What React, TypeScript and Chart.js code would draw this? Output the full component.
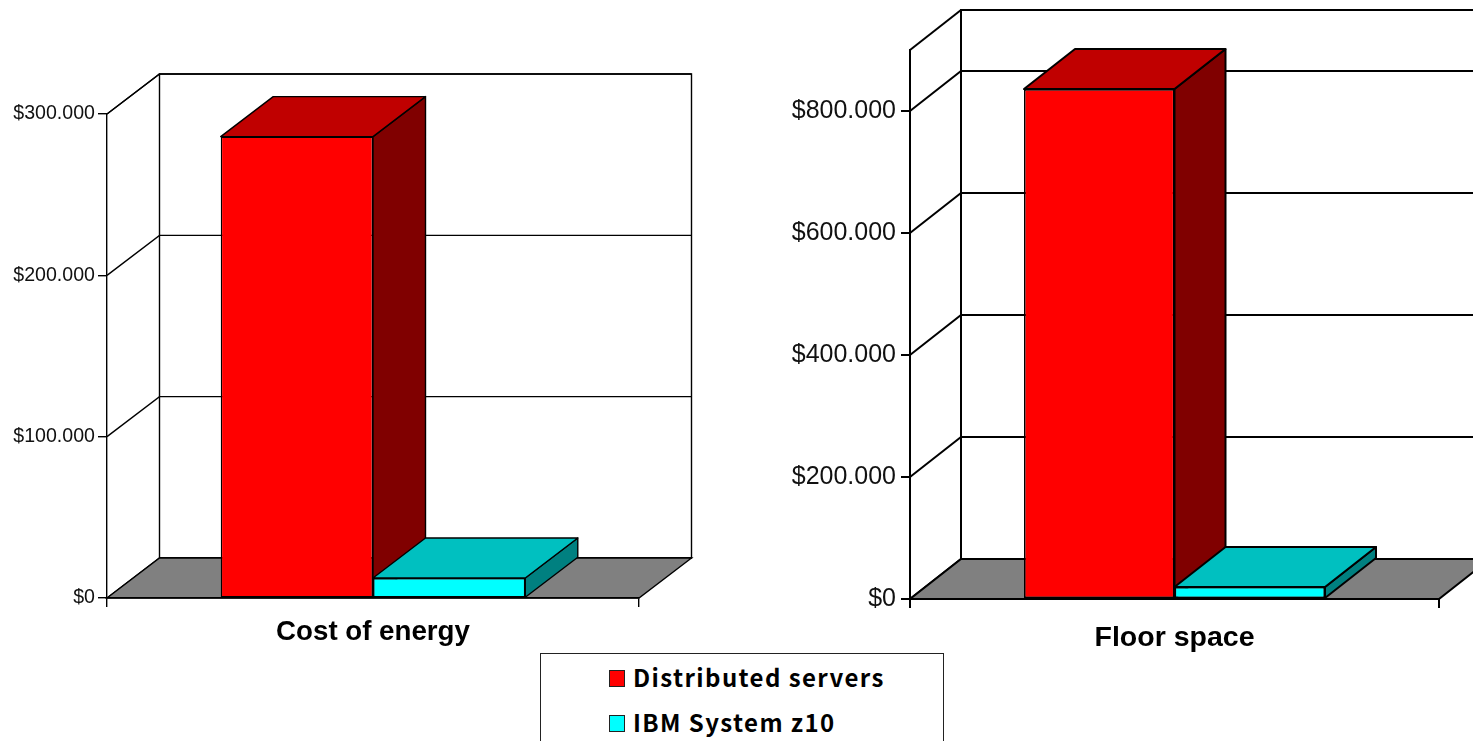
import React, { useEffect, useRef } from "react";
import { Chart, registerables } from "chart.js";

Chart.register(...registerables);

const seriesNames = ["Distributed servers", "IBM System z10"];
const energyCategories = ["Cost of energy"];
const energyDistributed = [286000];
const energyZ10 = [12400];
const energyTicks = [0, 100000, 200000, 300000];
const energyMax = 300000;
const floorCategories = ["Floor space"];
const floorDistributed = [836000];
const floorZ10 = [19700];
const floorTicks = [0, 200000, 400000, 600000, 800000];
const floorMax = 900000;

const frontColors = ["#FF0000", "#00FFFF"];
const topColors = ["#C00000", "#00C0C0"];
const sideColors = ["#800000", "#008080"];

const money = (v: number) => {
  if (v === 0) return "$0";
  const thousands = Math.round(v / 1000);
  return "$" + thousands + ".000";
};

function depthPlugin(dx: number, dy: number, lw: number) {
  const face = (ctx: any, pts: number[][], fill: string | null) => {
    ctx.beginPath();
    pts.forEach((p, i) => (i ? ctx.lineTo(p[0], p[1]) : ctx.moveTo(p[0], p[1])));
    ctx.closePath();
    if (fill) {
      ctx.fillStyle = fill;
      ctx.fill();
    }
    ctx.stroke();
  };
  return {
    id: "depth3d",
    beforeDraw(chart: any) {
      const { ctx, chartArea: a, scales } = chart;
      const y = scales.y;
      ctx.save();
      ctx.strokeStyle = "#000";
      ctx.lineWidth = lw;
      // walls
      face(ctx, [[a.left + dx, a.top + dy], [a.right + dx, a.top + dy], [a.right + dx, a.bottom + dy], [a.left + dx, a.bottom + dy]], "#fff");
      // side-wall top edge
      ctx.beginPath();
      ctx.moveTo(a.left, a.top);
      ctx.lineTo(a.left + dx, a.top + dy);
      ctx.stroke();
      // gridlines
      y.ticks.forEach((t: any) => {
        const py = y.getPixelForValue(t.value);
        ctx.beginPath();
        ctx.moveTo(a.left, py);
        ctx.lineTo(a.left + dx, py + dy);
        ctx.lineTo(a.right + dx, py + dy);
        ctx.stroke();
      });
      // floor
      face(ctx, [[a.left, a.bottom], [a.right, a.bottom], [a.right + dx, a.bottom + dy], [a.left + dx, a.bottom + dy]], "#808080");
      ctx.restore();
    },
    beforeDatasetsDraw(chart: any) {
      const { ctx } = chart;
      ctx.save();
      ctx.strokeStyle = "#000";
      ctx.lineWidth = lw;
      ctx.lineJoin = "round";
      chart.data.datasets.forEach((_: any, i: number) => {
        chart.getDatasetMeta(i).data.forEach((el: any) => {
          const l = el.x - el.width / 2;
          const r = el.x + el.width / 2;
          face(ctx, [[r, el.y], [r + dx, el.y + dy], [r + dx, el.base + dy], [r, el.base]], sideColors[i]);
          face(ctx, [[l, el.y], [r, el.y], [r + dx, el.y + dy], [l + dx, el.y + dy]], topColors[i]);
        });
      });
      ctx.restore();
    },
  };
}

type Cfg = {
  categories: string[];
  a: number[];
  b: number[];
  ticks: number[];
  max: number;
  axisLeft: number;
  axisWidth: number;
  top: number;
  bottom: number;
  canvasW: number;
  dx: number;
  dy: number;
  lw: number;
  barLw: number;
  tickFont: number;
  tickPad: number;
  catFont: number;
  catPad: number;
  catPct: number;
};

function build(canvas: HTMLCanvasElement, c: Cfg) {
  return new Chart(canvas, {
    type: "bar",
    data: {
      labels: c.categories,
      datasets: [
        { label: seriesNames[0], data: c.a, backgroundColor: frontColors[0] },
        { label: seriesNames[1], data: c.b, backgroundColor: frontColors[1] },
      ],
    },
    plugins: [depthPlugin(c.dx, c.dy, c.lw)],
    options: {
      animation: false,
      responsive: false,
      devicePixelRatio: 1,
      layout: { padding: { left: 0, top: c.top, right: c.canvasW - c.axisLeft - c.axisWidth, bottom: 0 } },
      plugins: { legend: { display: false }, title: { display: false }, tooltip: { enabled: false } },
      datasets: {
        bar: {
          borderColor: "#000",
          borderWidth: c.barLw,
          borderSkipped: false,
          barPercentage: 1,
          categoryPercentage: c.catPct,
        },
      },
      scales: {
        x: {
          grid: { offset: true, drawOnChartArea: false, tickLength: 9, color: "#000", lineWidth: c.lw },
          border: { display: true, color: "#000", width: c.lw },
          ticks: {
            color: "#000",
            padding: c.catPad,
            maxRotation: 0,
            font: { family: "Liberation Sans", size: c.catFont, weight: "bold" },
          },
          afterFit(s: any) {
            s.height = 741 - c.bottom;
          },
        },
        y: {
          min: 0,
          max: c.max,
          afterBuildTicks(s: any) {
            s.ticks = c.ticks.map((value) => ({ value }));
          },
          grid: { drawOnChartArea: false, tickLength: 9, color: "#000", lineWidth: c.lw },
          border: { display: true, color: "#000", width: c.lw },
          ticks: {
            color: "#111",
            padding: c.tickPad,
            autoSkip: false,
            callback: (v: any) => money(Number(v)),
            font: { family: "Liberation Sans", size: c.tickFont },
          },
          afterFit(s: any) {
            s.width = c.axisLeft;
          },
        },
      },
    } as any,
  });
}

const legendItemStyle = (top: number): React.CSSProperties => ({
  position: "absolute",
  left: 633,
  top,
  height: 30,
  lineHeight: "30px",
  fontFamily: '"Noto Sans CJK JP"',
  fontWeight: 700,
  fontSize: 24,
  letterSpacing: 1.4,
  color: "#000",
  whiteSpace: "nowrap",
});

export default function App() {
  const leftRef = useRef<HTMLCanvasElement>(null);
  const rightRef = useRef<HTMLCanvasElement>(null);

  useEffect(() => {
    document.body.style.margin = "0";
    document.body.style.overflow = "hidden";
    const left = build(leftRef.current!, {
      categories: energyCategories,
      a: energyDistributed,
      b: energyZ10,
      ticks: energyTicks,
      max: energyMax,
      axisLeft: 107,
      axisWidth: 532,
      top: 114,
      bottom: 598,
      canvasW: 760,
      dx: 52.5,
      dy: -40,
      lw: 1.4,
      barLw: 1.4,
      tickFont: 19.6,
      tickPad: 3,
      catFont: 27.7,
      catPad: 9,
      catPct: 0.5725,
    });
    const right = build(rightRef.current!, {
      categories: floorCategories,
      a: floorDistributed,
      b: floorZ10,
      ticks: floorTicks,
      max: floorMax,
      axisLeft: 150,
      axisWidth: 529,
      top: 50,
      bottom: 599,
      canvasW: 713,
      dx: 51,
      dy: -40,
      lw: 2,
      barLw: 1.6,
      tickFont: 25,
      tickPad: 5,
      catFont: 28.5,
      catPad: 13,
      catPct: 0.569,
    });
    return () => {
      left.destroy();
      right.destroy();
    };
  }, []);

  return (
    <div style={{ position: "fixed", left: 0, top: 0, width: 1473, height: 741, overflow: "hidden", background: "#fff" }}>
      <canvas ref={leftRef} width={760} height={741} style={{ position: "absolute", left: 0, top: 0, display: "block" }} />
      <canvas ref={rightRef} width={713} height={741} style={{ position: "absolute", left: 760, top: 0, display: "block" }} />
      <div style={{ position: "absolute", left: 540, top: 653, width: 402, height: 130, border: "1px solid #222", background: "#fff" }} />
      <div style={{ position: "absolute", left: 609, top: 670, width: 14, height: 15, background: frontColors[0], border: "1px solid #222" }} />
      <div style={legendItemStyle(662)}>{seriesNames[0]}</div>
      <div style={{ position: "absolute", left: 609, top: 715, width: 14, height: 15, background: frontColors[1], border: "1px solid #222" }} />
      <div style={legendItemStyle(707)}>{seriesNames[1]}</div>
    </div>
  );
}
